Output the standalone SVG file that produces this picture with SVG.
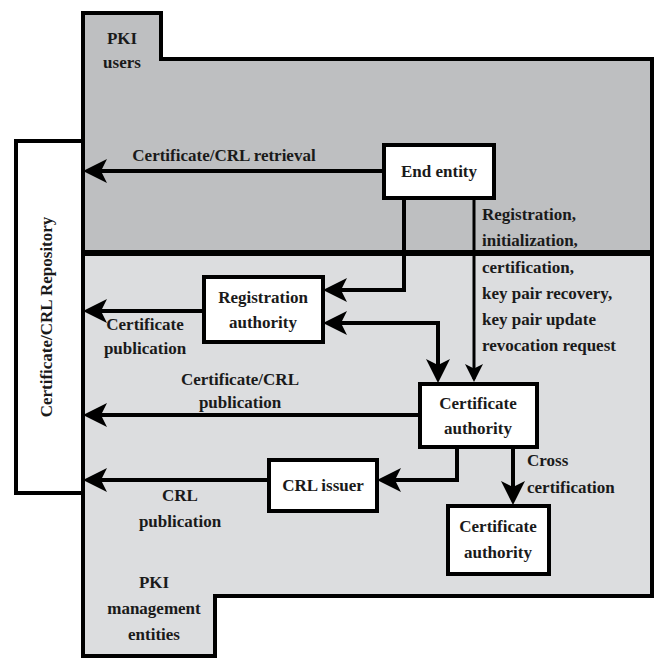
<svg xmlns="http://www.w3.org/2000/svg" width="658" height="663" viewBox="0 0 658 663">
<style>
text{font-family:"Liberation Serif","DejaVu Serif",serif;font-weight:bold;font-size:17px;fill:#1a1a1a}
.box{fill:#fff;stroke:#000;stroke-width:4}
.c{fill:none;stroke:#000;stroke-width:4}
.m{text-anchor:middle}
</style>
<defs><marker id="a" markerWidth="6" markerHeight="6" refX="5" refY="3" orient="auto" markerUnits="strokeWidth"><path d="M0,0 L6,3 L0,6 L1.5,3 Z" fill="#000"/></marker>
<marker id="as" markerWidth="6" markerHeight="6" refX="5" refY="3" orient="auto-start-reverse" markerUnits="strokeWidth"><path d="M0,0 L6,3 L0,6 L1.5,3 Z" fill="#000"/></marker></defs>
<g id="users"><path d="M83,13 H161 V59 H652 V253 H83 Z" fill="#bebfc1" stroke="#000" stroke-width="4"/>
<text x="122" y="44" class="m">PKI</text><text x="122" y="68" class="m">users</text></g>
<g id="mgmt"><path d="M83,254 H652 V596 H215 V656 H83 Z" fill="#dcdddf" stroke="#000" stroke-width="4"/>
<line x1="83" y1="253" x2="652" y2="253" stroke="#000" stroke-width="6"/>
<text x="154" y="588" class="m">PKI</text><text x="154" y="614" class="m">management</text><text x="154" y="640" class="m">entities</text></g>
<g id="repo"><rect x="16" y="141" width="67" height="352" class="box"/>
<text transform="translate(52,317) rotate(-90)" class="m">Certificate/CRL Repository</text></g>
<g id="connectors">
<line x1="383" y1="171" x2="87" y2="171" class="c" marker-end="url(#a)"/>
<polyline points="404,198 404,290 327,290" class="c" marker-end="url(#a)"/>
<line x1="474" y1="198" x2="474" y2="379" stroke="#000" stroke-width="3" marker-end="url(#a)"/>
<polyline points="327,323 438,323 438,379" class="c" marker-start="url(#as)" marker-end="url(#a)"/>
<line x1="203" y1="311" x2="87" y2="311" class="c" marker-end="url(#a)"/>
<line x1="419" y1="415" x2="87" y2="415" class="c" marker-end="url(#a)"/>
<polyline points="457,446 457,480 381,480" class="c" marker-end="url(#a)"/>
<line x1="268" y1="480" x2="87" y2="480" class="c" marker-end="url(#a)"/>
<line x1="513" y1="446" x2="513" y2="501" class="c" marker-end="url(#a)"/>
<text x="224" y="161" class="m">Certificate/CRL retrieval</text>
<text x="145" y="330" class="m">Certificate</text><text x="145" y="354" class="m">publication</text>
<text x="240" y="385" class="m">Certificate/CRL</text><text x="240" y="408" class="m">publication</text>
<text x="180" y="501" class="m">CRL</text><text x="180" y="527" class="m">publication</text>
<text x="482" y="220">Registration,</text><text x="482" y="246">initialization,</text><text x="482" y="273">certification,</text><text x="482" y="299">key pair recovery,</text><text x="482" y="325">key pair update</text><text x="482" y="351">revocation request</text>
<text x="527" y="466">Cross</text><text x="527" y="493">certification</text>
</g>
<g id="ee"><rect x="384" y="145" width="110" height="53" class="box"/><text x="439" y="177" class="m">End entity</text></g>
<g id="ra"><rect x="204" y="277" width="119" height="65" class="box"/><text x="263" y="303" class="m">Registration</text><text x="263" y="328" class="m">authority</text></g>
<g id="ca"><rect x="420" y="384" width="117" height="63" class="box"/><text x="478" y="409" class="m">Certificate</text><text x="478" y="434" class="m">authority</text></g>
<g id="crl"><rect x="269" y="460" width="108" height="51" class="box"/><text x="323" y="491" class="m">CRL issuer</text></g>
<g id="ca2"><rect x="448" y="506" width="101" height="68" class="box"/><text x="498" y="532" class="m">Certificate</text><text x="498" y="558" class="m">authority</text></g>
</svg>
